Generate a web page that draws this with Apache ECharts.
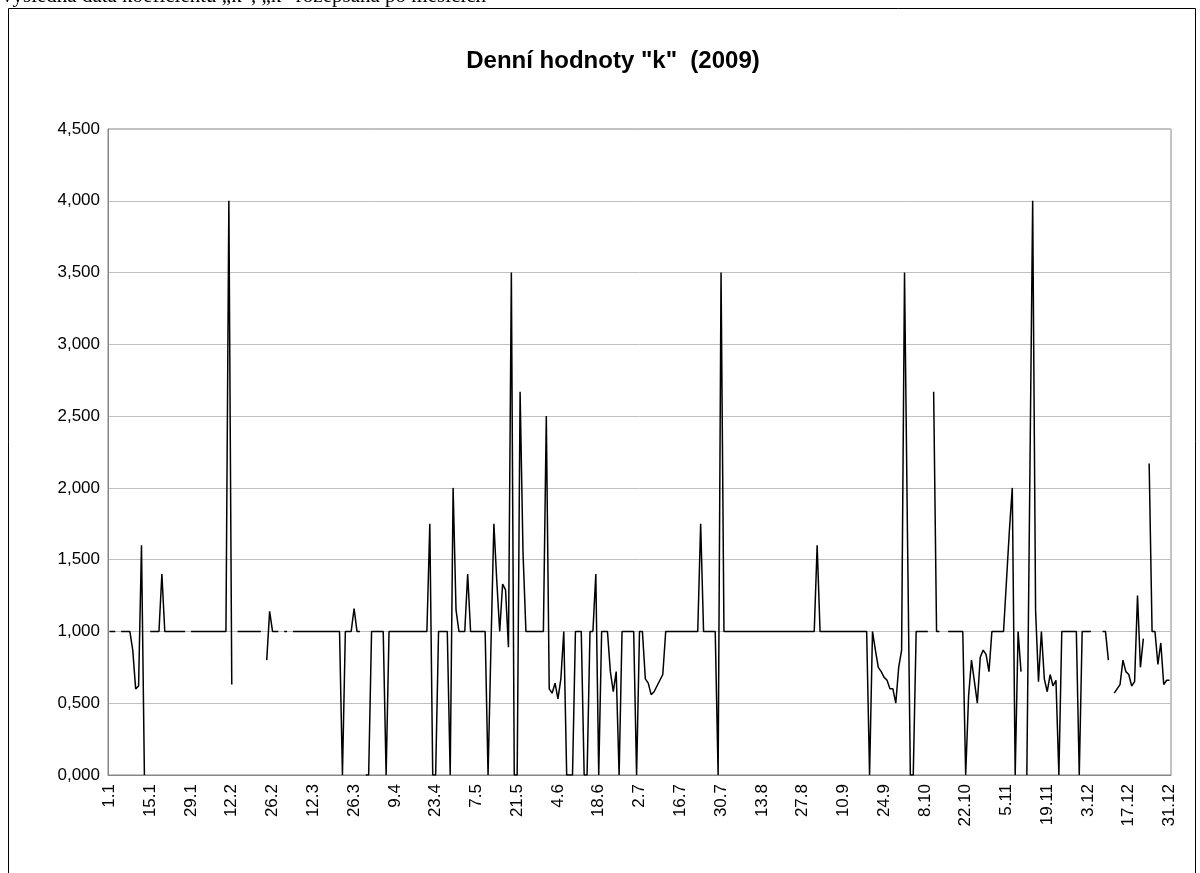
<!DOCTYPE html>
<html>
<head>
<meta charset="utf-8">
<script src="https://cdn.jsdelivr.net/npm/echarts@6/dist/echarts.min.js"></script>
<style>
  html, body { margin: 0; padding: 0; background: #fff; }
  #chart { width: 1200px; height: 873px; }
</style>
</head>
<body>
<div id="chart"></div>
<script>
// daily values of "k", one array per month (null = no value that day)
const jan = [1, 1, 1, null, 1, 1, 1, 1, 0.87, 0.6, 0.62, 1.6, 0, null, 1, 1, 1, 1, 1.4, 1, 1, 1, 1, 1, 1, 1, 1, null, 1, 1, 1];
const feb = [1, 1, 1, 1, 1, 1, 1, 1, 1, 1, 4, 0.63, null, 1, 1, 1, 1, 1, 1, 1, 1, 1, null, 0.8, 1.14, 1, 1, 1];
const mar = [null, 1, 1, null, 1, 1, 1, 1, 1, 1, 1, 1, 1, 1, 1, 1, 1, 1, 1, 1, 1, 0, 1, 1, 1, 1.16, 1, 1, null, 0, 0];
const apr = [1, 1, 1, 1, 1, 0, 1, 1, 1, 1, 1, 1, 1, 1, 1, 1, 1, 1, 1, 1, 1.75, 0, 0, 1, 1, 1, 1, 0, 2, 1.15];
const may = [1, 1, 1, 1.4, 1, 1, 1, 1, 1, 1, 0, 0.9, 1.75, 1.35, 1, 1.33, 1.29, 0.89, 3.5, 0, 0, 2.67, 1.55, 1, 1, 1, 1, 1, 1, 1, 2.5];
const jun = [0.6, 0.57, 0.64, 0.53, 0.67, 1, 0, 0, 0, 1, 1, 1, 0, 0, 1, 1, 1.4, 0, 1, 1, 1, 0.72, 0.58, 0.72, 0, 1, 1, 1, 1, 1];
const jul = [0, 1, 1, 0.67, 0.64, 0.56, 0.58, 0.62, 0.66, 0.7, 1, 1, 1, 1, 1, 1, 1, 1, 1, 1, 1, 1, 1.75, 1, 1, 1, 1, 1, 0, 3.5, 1];
const aug = [1, 1, 1, 1, 1, 1, 1, 1, 1, 1, 1, 1, 1, 1, 1, 1, 1, 1, 1, 1, 1, 1, 1, 1, 1, 1, 1, 1, 1, 1, 1];
const sep = [1.6, 1, 1, 1, 1, 1, 1, 1, 1, 1, 1, 1, 1, 1, 1, 1, 1, 1, 0, 1, 0.87, 0.75, 0.72, 0.68, 0.66, 0.6, 0.6, 0.5, 0.75, 0.87];
const oct = [3.5, 1.7, 0, 0, 1, 1, 1, 1, 1, null, 2.67, 1, 1, null, null, 1, 1, 1, 1, 1, 1, 0, 0.55, 0.8, 0.65, 0.5, 0.82, 0.87, 0.84, 0.72, 1];
const nov = [1, 1, 1, 1, 1.35, 1.7, 2, 0, 1, 0.72, null, 0, 2, 4, 1.15, 0.65, 1, 0.67, 0.58, 0.7, 0.62, 0.66, 0, 1, 1, 1, 1, 1, 1, 0];
const dec = [1, 1, 1, 1, null, null, null, 1, 1, 0.8, null, 0.57, 0.6, 0.63, 0.8, 0.72, 0.7, 0.62, 0.65, 1.25, 0.75, 0.95, null, 2.17, 1, 1, 0.77, 0.92, 0.63, 0.66, 0.66];

const monthLengths = [31, 28, 31, 30, 31, 30, 31, 31, 30, 31, 30, 31];
const yTicks = [0, 0.5, 1, 1.5, 2, 2.5, 3, 3.5, 4, 4.5];

const values = [].concat(jan, feb, mar, apr, may, jun, jul, aug, sep, oct, nov, dec);
const days = [];
monthLengths.forEach((len, m) => {
  for (let d = 1; d <= len; d++) days.push(d + "." + (m + 1));
});

const font = "'Liberation Sans', Arial, sans-serif";
const chart = echarts.init(document.getElementById("chart"));

chart.setOption({
  animation: false,
  backgroundColor: "#fff",
  title: {
    text: 'Denní hodnoty "k"  (2009)',
    left: 608,
    textAlign: "center",
    top: 44,
    textStyle: { fontFamily: font, fontSize: 24, fontWeight: "bold", color: "#000" },
  },
  graphic: [
    {
      // bottom edge of the document line above the chart
      type: "text",
      left: 2,
      top: -14,
      style: {
        text: "výsledná data koeficientu „k“, „k“ rozepsaná po měsících",
        font: "21px 'Liberation Serif', 'Times New Roman', serif",
        fill: "#000",
      },
    },
    {
      type: "rect",
      shape: { x: 8.5, y: 8.5, width: 1187, height: 900 },
      style: { fill: "#fff", stroke: "#000", lineWidth: 1 },
      z: -10,
    },
  ],
  grid: {
    left: 108,
    right: 29,
    top: 129,
    bottom: 98,
    show: true,
    borderColor: "#868686",
    borderWidth: 1,
  },
  xAxis: {
    type: "category",
    data: days,
    boundaryGap: true,
    axisLine: { lineStyle: { color: "#868686", width: 1 } },
    axisTick: { interval: 13, length: 5, lineStyle: { color: "#868686" } },
    axisLabel: {
      interval: 13,
      rotate: 90,
      margin: 9,
      color: "#000",
      fontFamily: font,
      fontSize: 17,
    },
    splitLine: { show: false },
  },
  yAxis: {
    type: "value",
    min: yTicks[0],
    max: yTicks[yTicks.length - 1],
    interval: 0.5,
    axisLine: { show: true, lineStyle: { color: "#868686" } },
    axisTick: { show: false },
    axisLabel: {
      color: "#000",
      fontFamily: font,
      fontSize: 17,
      margin: 8,
      formatter: (v) => v.toFixed(3).replace(".", ","),
    },
    splitLine: { lineStyle: { color: "#c0c0c0", width: 1 } },
  },
  series: [
    {
      type: "line",
      data: values,
      showSymbol: false,
      connectNulls: false,
      lineStyle: { color: "#000", width: 1.5 },
    },
  ],
});
</script>
</body>
</html>
